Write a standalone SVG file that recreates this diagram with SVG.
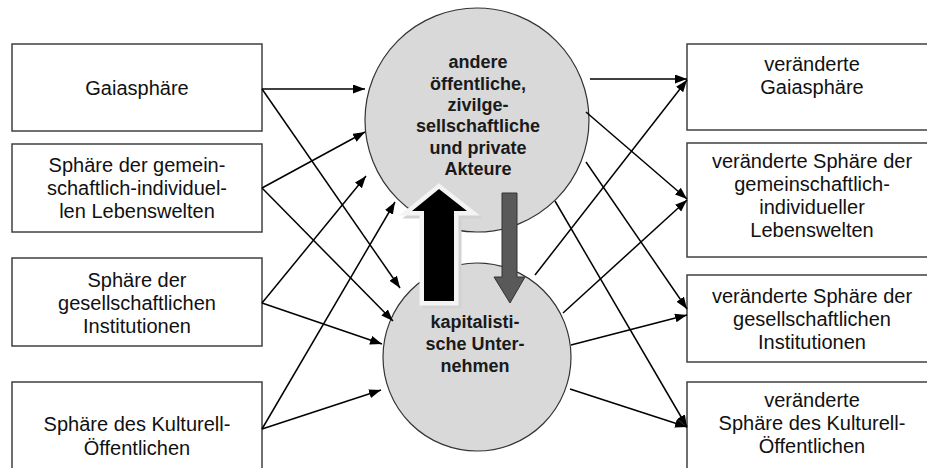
<svg xmlns="http://www.w3.org/2000/svg" width="927" height="468" viewBox="0 0 927 468">
<defs>
<marker id="ah" markerUnits="userSpaceOnUse" markerWidth="13" markerHeight="10" refX="12" refY="4.5" orient="auto">
<path d="M0,0 L12,4.5 L0,9 z" fill="#000"/>
</marker>
<style>
.box{fill:#fff;stroke:#404040;stroke-width:1.5}
.t{font-family:"Liberation Sans",Arial,sans-serif;font-size:20px;fill:#111;text-anchor:middle}
.b{font-family:"Liberation Sans",Arial,sans-serif;font-size:18px;font-weight:bold;fill:#1a1a1a;text-anchor:middle}
.circ{fill:#d9d9d9;stroke:#333;stroke-width:1.2}
.c{stroke:#000;stroke-width:1.5;fill:none;marker-end:url(#ah)}
</style>
</defs>
<rect width="927" height="468" fill="#fff"/>

<g id="left1"><rect class="box" x="12" y="44" width="250" height="87"/><text class="t" x="137" y="95">Gaiasphäre</text></g>
<g id="left2"><rect class="box" x="12" y="144" width="250" height="88"/><text class="t" x="137" y="172">Sphäre der gemein-</text><text class="t" x="137" y="195">schaftlich-individuel-</text><text class="t" x="137" y="218">len Lebenswelten</text></g>
<g id="left3"><rect class="box" x="12" y="258" width="250" height="88"/><text class="t" x="137" y="287">Sphäre der</text><text class="t" x="137" y="310">gesellschaftlichen</text><text class="t" x="137" y="333">Institutionen</text></g>
<g id="left4"><rect class="box" x="12" y="382" width="250" height="95"/><text class="t" x="137" y="431">Sphäre des Kulturell-</text><text class="t" x="137" y="455">Öffentlichen</text></g>

<g id="right1"><rect class="box" x="687" y="44" width="252" height="86"/><text class="t" x="812" y="71">veränderte</text><text class="t" x="812" y="94">Gaiasphäre</text></g>
<g id="right2"><rect class="box" x="687" y="143" width="252" height="114"/><text class="t" x="812" y="168">veränderte Sphäre der</text><text class="t" x="812" y="191">gemeinschaftlich-</text><text class="t" x="812" y="214">individueller</text><text class="t" x="812" y="237">Lebenswelten</text></g>
<g id="right3"><rect class="box" x="687" y="275" width="252" height="87"/><text class="t" x="812" y="303">veränderte Sphäre der</text><text class="t" x="812" y="326">gesellschaftlichen</text><text class="t" x="812" y="349">Institutionen</text></g>
<g id="right4"><rect class="box" x="687" y="382" width="252" height="95"/><text class="t" x="812" y="407">veränderte</text><text class="t" x="812" y="430">Sphäre des Kulturell-</text><text class="t" x="812" y="453">Öffentlichen</text></g>

<g id="actors"><circle class="circ" cx="477" cy="120" r="112"/>
<text class="b" x="478" y="68">andere</text><text class="b" x="478" y="89.5">öffentliche,</text><text class="b" x="478" y="111">zivilge-</text><text class="b" x="478" y="132">sellschaftliche</text><text class="b" x="478" y="153.5">und private</text><text class="b" x="478" y="175">Akteure</text></g>

<g id="companies"><circle class="circ" cx="477" cy="357" r="94"/>
<text class="b" x="475" y="328">kapitalisti-</text><text class="b" x="475" y="350">sche Unter-</text><text class="b" x="475" y="372">nehmen</text></g>

<g id="connectors">
<line class="c" x1="262" y1="89" x2="365" y2="89"/>
<line class="c" x1="262" y1="89" x2="400" y2="288"/>
<line class="c" x1="262" y1="188" x2="365" y2="132"/>
<line class="c" x1="262" y1="188" x2="393" y2="321"/>
<line class="c" x1="262" y1="303" x2="366" y2="176"/>
<line class="c" x1="262" y1="303" x2="382" y2="344"/>
<line class="c" x1="262" y1="429" x2="395" y2="202"/>
<line class="c" x1="262" y1="429" x2="381" y2="390"/>
<line class="c" x1="590" y1="79" x2="687" y2="79"/>
<line class="c" x1="586" y1="112" x2="687" y2="199"/>
<line class="c" x1="586" y1="162" x2="687" y2="309"/>
<line class="c" x1="555" y1="201" x2="687" y2="427"/>
<line class="c" x1="535" y1="275" x2="687" y2="80"/>
<line class="c" x1="563" y1="313" x2="687" y2="200"/>
<line class="c" x1="571" y1="345" x2="687" y2="315"/>
<line class="c" x1="570" y1="389" x2="687" y2="427"/>
</g>

<g id="up-arrow">
<polygon points="442,192 470,214 457,214 457,304 427,304 427,214 415,214" fill="#d2d2d2" stroke="#d2d2d2" stroke-width="9" stroke-linejoin="miter"/>
<polygon points="439,189 467,211 454,211 454,301 424,301 424,211 412,211" fill="#000" stroke="#f4f4f4" stroke-width="9" stroke-linejoin="miter" paint-order="stroke"/>
</g>
<g id="down-arrow">
<polygon points="502,193 517,193 517,277 525,277 510,303 494,277 502,277" fill="#595959" stroke="#333" stroke-width="1"/>
</g>
</svg>
